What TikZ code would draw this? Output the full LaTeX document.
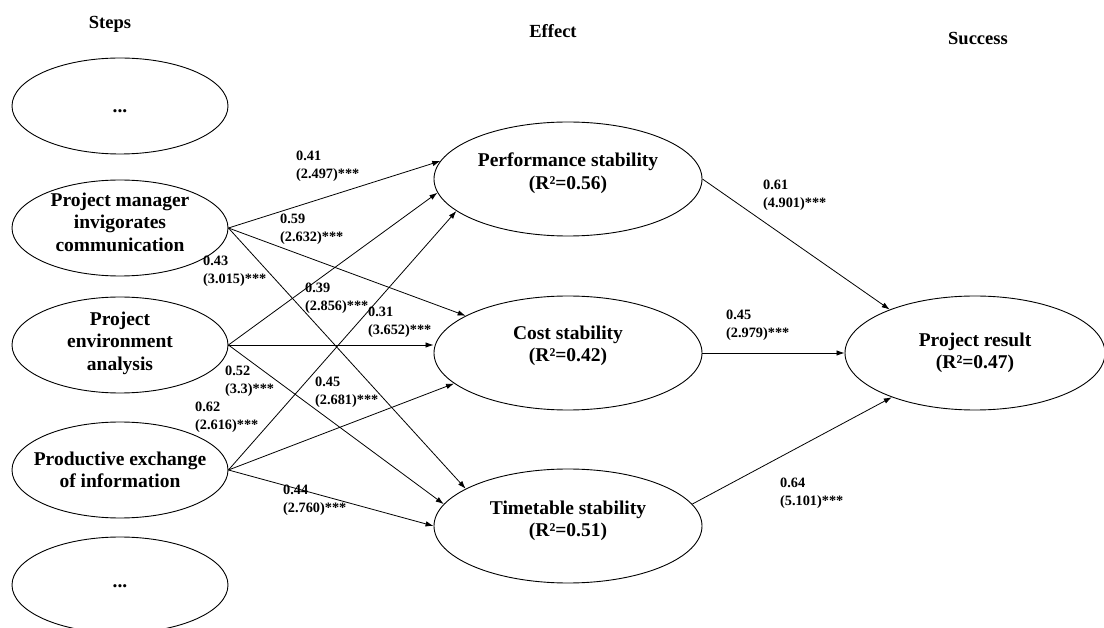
\documentclass[tikz,border=0pt]{standalone}
\usepackage{fontspec}
\setmainfont{Liberation Serif}
\usetikzlibrary{arrows.meta,shapes.geometric}
\tikzset{oval/.style={draw,ellipse,line width=0.9pt,inner sep=0pt},stepoval/.style={oval,minimum width=216pt,minimum height=96pt},effoval/.style={oval,minimum width=268pt,minimum height=114pt},ovaltxt/.style={align=center,inner sep=0pt,font=\bfseries\fontsize{19.5}{22.5}\selectfont},coef/.style={align=left,anchor=west,inner sep=0pt,font=\bfseries\fontsize{14.3}{18}\selectfont},head/.style={inner sep=0pt,font=\bfseries\fontsize{18.5}{20}\selectfont},link/.style={-{Latex[length=8pt,width=5.5pt]},line width=0.8pt}}

\begin{document}
\begin{tikzpicture}[x=1pt,y=-1pt]
\useasboundingbox (0,0) rectangle (1104,628);
\node[head] (hsteps) at (110,24) {Steps};
\node[head] (heffect) at (553,31) {Effect};
\node[head] (hsuccess) at (978,38) {Success};
\node[stepoval] (dots1) at (120,106) {};
\node[stepoval] (pm) at (120,228) {};
\node[stepoval] (env) at (120,345) {};
\node[stepoval] (info) at (120,470) {};
\node[stepoval] (dots2) at (120,585) {};
\node[effoval] (perf) at (568,179) {};
\node[effoval] (cost) at (568,353) {};
\node[effoval] (time) at (568,526) {};
\node[effoval,minimum width=260pt] (result) at (975,353) {};
\node[ovaltxt] (dots1txt) at (120,111) {...};
\node[ovaltxt] (pmtxt) at (120,222) {Project manager\\invigorates\\communication};
\node[ovaltxt] (envtxt) at (120,343) {Project\\environment\\analysis};
\node[ovaltxt] (infotxt) at (120,470) {Productive exchange\\of information};
\node[ovaltxt] (dots2txt) at (120,586) {...};
\node[ovaltxt] (perftxt) at (568,173) {Performance stability\\(R²=0.56)};
\node[ovaltxt] (costtxt) at (568,346) {Cost stability\\(R²=0.42)};
\node[ovaltxt] (timetxt) at (568,521) {Timetable stability\\(R²=0.51)};
\node[ovaltxt] (resulttxt) at (975,353) {Project result\\(R²=0.47)};
\draw[link] (pm.east) -- (perf.172);
\draw[link] (pm.east) -- (cost.160);
\draw[link] (pm.east) -- (time.160);
\draw[link] (env.east) -- (perf.186);
\draw[link] (env.east) -- (env.east -| cost.west);
\draw[link] (env.east) -- (time.170);
\draw[link] (info.east) -- (perf.196);
\draw[link] (info.east) -- (cost.195);
\draw[link] (info.east) -- (time.180);
\draw[link] (perf.east) -- (result.153);
\draw[link] (cost.east) -- (result.west);
\draw[link] (time.10) -- (result.208);
\node[coef] (c41) at (296,166) {0.41\\(2.497)***};
\node[coef] (c59) at (280,229) {0.59\\(2.632)***};
\node[coef] (c43) at (203,271) {0.43\\(3.015)***};
\node[coef] (c39) at (305,298) {0.39\\(2.856)***};
\node[coef] (c31) at (368,322) {0.31\\(3.652)***};
\node[coef] (c52) at (225,381) {0.52\\(3.3)***};
\node[coef] (c45a) at (315,392) {0.45\\(2.681)***};
\node[coef] (c62) at (195,417) {0.62\\(2.616)***};
\node[coef] (c44) at (283,500) {0.44\\(2.760)***};
\node[coef] (c61) at (763,195) {0.61\\(4.901)***};
\node[coef] (c45b) at (726,325) {0.45\\(2.979)***};
\node[coef] (c64) at (780,493) {0.64\\(5.101)***};
\end{tikzpicture}
\end{document}
